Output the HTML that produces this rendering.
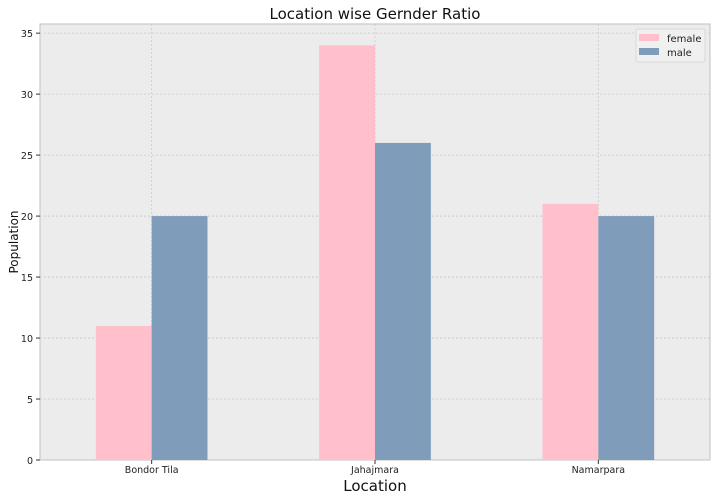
<!DOCTYPE html>
<html><head><meta charset="utf-8"><style>
body{margin:0;background:#fff;font-family:"Liberation Sans","DejaVu Sans",sans-serif}
svg text{font-family:"DejaVu Sans","Liberation Sans",sans-serif}
</style></head><body>
<svg id="c" width="717" height="499"></svg>
<script>
const categories=["Bondor Tila","Jahajmara","Namarpara"];
const female=[11,34,21];
const male=[20,26,20];
const yTicks=[0,5,10,15,20,25,30,35];
const L=40,R=710,T=24,B=460,yMax=35.75;
const ns="http://www.w3.org/2000/svg";
const svg=document.getElementById('c');
function el(t,a,p){const e=document.createElementNS(ns,t);for(const k in a)e.setAttribute(k,a[k]);(p||svg).appendChild(e);return e;}
const y=v=>B-(v/yMax)*(B-T);
const step=(R-L)/categories.length;
const x=i=>L+step*(i+0.5);
const bw=step/4;
let bg=el('rect',{x:L,y:T,width:R-L,height:B-T,fill:'#ececec',stroke:'#bfbfbf'});


yTicks.forEach(v=>{
 let g=el('line',{x1:L,x2:R,y1:y(v),y2:y(v),stroke:'#c8c8c8','stroke-dasharray':'2,2','stroke-width':0.8});
 
 
 el('line',{x1:L-4,x2:L,y1:y(v),y2:y(v),stroke:'#333'});
 let t=el('text',{x:L-7,y:y(v)+4,'text-anchor':'end','font-size':9.5,fill:'#222'});
 t.textContent=v;
 
 
});
categories.forEach((c,i)=>{
 let g=el('line',{x1:x(i),x2:x(i),y1:T,y2:B,stroke:'#c8c8c8','stroke-dasharray':'2,2','stroke-width':0.8});
 
 
});
categories.forEach((c,i)=>{
 let f=el('rect',{x:x(i)-bw,y:y(female[i]),width:bw,height:B-y(female[i]),fill:'#ffc0cb'});
 
 
 let m=el('rect',{x:x(i),y:y(male[i]),width:bw,height:B-y(male[i]),fill:'#7f9dbb'});
 
 
 el('line',{x1:x(i),x2:x(i),y1:B,y2:B+4,stroke:'#333'});
 let t=el('text',{x:x(i),y:B+13,'text-anchor':'middle','font-size':9.5,fill:'#222'});
 t.textContent=c;
 
 
});
let tt=el('text',{x:(L+R)/2,y:19,'text-anchor':'middle','font-size':15,fill:'#111'});
tt.textContent='Location wise Gernder Ratio';


let xt=el('text',{x:(L+R)/2,y:491,'text-anchor':'middle','font-size':15,fill:'#111'});
xt.textContent='Location';


let yt=el('text',{x:18,y:(T+B)/2,'text-anchor':'middle','font-size':12,fill:'#111',transform:`rotate(-90 18 ${(T+B)/2})`});
yt.textContent='Population';


let lg=el('g',{});


el('rect',{x:636,y:29,width:69,height:33,fill:'#f0f0f0',stroke:'#d8d8d8',rx:2},lg);
[['female','#ffc0cb',38],['male','#7f9dbb',52]].forEach(([n,col,yy])=>{
 let s=el('rect',{x:639,y:yy-4,width:20,height:7,fill:col},lg);
 
 
 let t=el('text',{x:667,y:yy+4,'font-size':10,fill:'#222'},lg);
 t.textContent=n;
 
 
});
</script>
</body></html>
